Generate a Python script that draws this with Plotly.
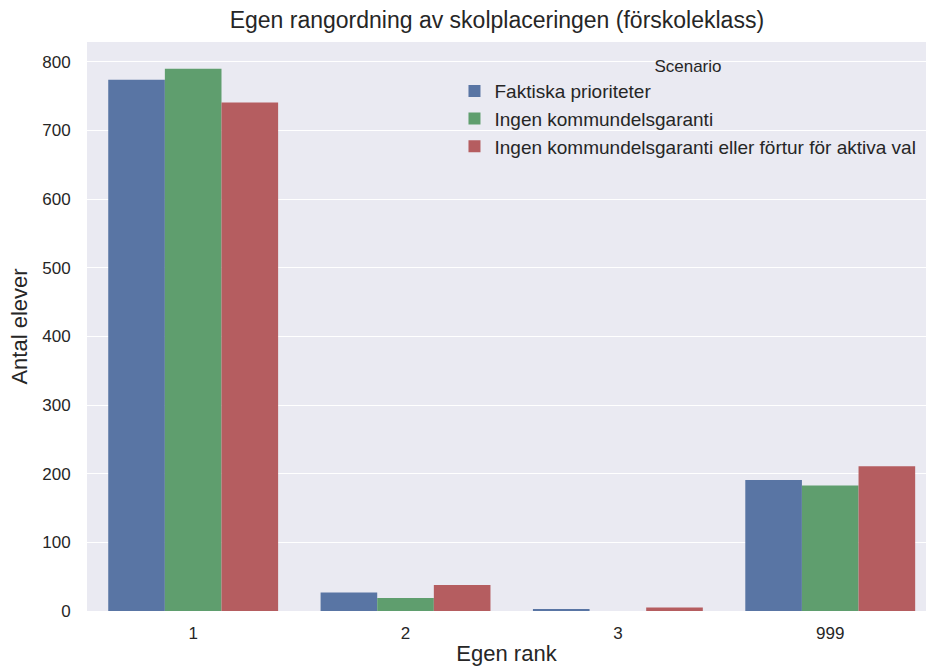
import plotly.graph_objects as go

categories = ["1", "2", "3", "999"]
scenarios = [
    "Faktiska prioriteter",
    "Ingen kommundelsgaranti",
    "Ingen kommundelsgaranti eller förtur för aktiva val",
]
faktiska = [774, 27, 2, 191]
ingen_garanti = [790, 19, 0, 183]
ingen_garanti_fortur = [741, 38, 5, 211]
series_values = [faktiska, ingen_garanti, ingen_garanti_fortur]
colors = ["#5975a4", "#5f9e6e", "#b55d60"]

FONT = "Liberation Sans, Arial, sans-serif"
TXT = "#262626"

W, H = 927, 666
L, T, B, R = 86.5, 41.5, 54.7, 1

fig = go.Figure()
for i, (name, vals) in enumerate(zip(scenarios, series_values)):
    fig.add_trace(go.Bar(
        x=categories, y=vals, name=name,
        marker=dict(color=colors[i], line=dict(width=0)),
        legendgroup=f"g{i}",
    ))

fig.update_layout(
    width=W, height=H,
    margin=dict(l=L, r=R, t=T, b=B, pad=0, autoexpand=False),
    paper_bgcolor="white",
    plot_bgcolor="#EAEAF2",
    barmode="group", bargap=0.2, bargroupgap=0,
    font=dict(family=FONT, color=TXT, size=17),
    title=dict(text="Egen rangordning av skolplaceringen (förskoleklass)",
               x=0.536, xref="container", xanchor="center",
               y=1 - 20 / H, yref="container", yanchor="middle",
               font=dict(size=23, color=TXT)),
    legend=dict(
        title=dict(text="Scenario", side="top center", font=dict(size=17, color=TXT)),
        x=0.438, xanchor="left", y=0.986, yanchor="top",
        bgcolor="rgba(0,0,0,0)", borderwidth=0,
        font=dict(size=19, color=TXT),
        tracegroupgap=0,
    ),
    showlegend=True,
)
fig.update_xaxes(
    type="category", range=[-0.5, 3.451],
    showgrid=False, zeroline=False, showline=False,
    ticks="outside", ticklen=7, tickcolor="rgba(0,0,0,0)",
    tickfont=dict(size=17, color=TXT),
    title=dict(text="Egen rank", font=dict(size=22, color=TXT), standoff=6),
    automargin=False,
)
fig.update_yaxes(
    range=[0, 829], tickvals=[0, 100, 200, 300, 400, 500, 600, 700, 800],
    showgrid=True, gridcolor="white", gridwidth=1.3, zeroline=False, showline=False,
    ticks="outside", ticklen=12, tickcolor="rgba(0,0,0,0)",
    tickfont=dict(size=17, color=TXT),
    title=dict(text="Antal elever", font=dict(size=22, color=TXT), standoff=8),
    automargin=False,
)

fig.write_html("out.html", config={"displayModeBar": False},
               post_script="document.body.style.margin='0';")
